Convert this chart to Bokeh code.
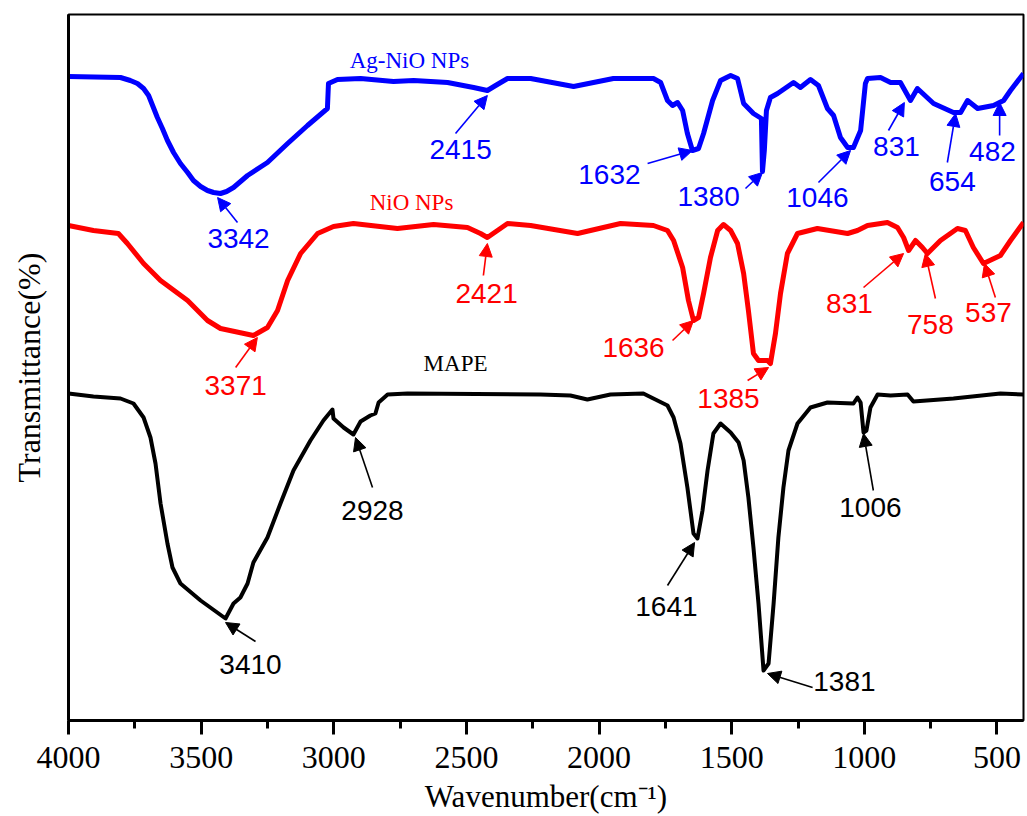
from bokeh.plotting import figure
from bokeh.models import Range1d, FixedTicker, Arrow, NormalHead, ColumnDataSource
from bokeh.embed import file_html
from bokeh.resources import INLINE
from bokeh.core.properties import value

# ---------------- data (wavenumber cm-1, offset transmittance a.u.) ----------------
agnio_wn = [4000, 3804, 3767, 3740, 3717, 3698, 3683, 3665, 3646, 3627, 3604, 3578, 3551, 3529,
            3502, 3476, 3453, 3427, 3404, 3378, 3325, 3250, 3174,
            3099, 3024, 3020, 2986, 2899, 2775, 2699, 2571, 2473, 2421, 2390, 2345, 2258, 2096,
            1946, 1795, 1768, 1742, 1723, 1704, 1685, 1667, 1648, 1625, 1606, 1572, 1542, 1504,
            1478, 1455, 1418, 1388, 1384, 1377, 1369, 1354, 1327, 1267, 1241, 1203, 1173, 1139,
            1116, 1090, 1063, 1041, 1014, 996, 988, 939, 901, 864, 826, 800, 739, 664, 637, 611,
            573, 513, 475, 449, 400]
agnio_t = [644, 643, 640, 637, 632, 625, 615, 603, 592, 580, 568, 557, 548, 540,
           534, 530, 528, 527, 529, 533, 545, 558, 577,
           595, 612, 637, 641, 642, 639, 640, 638, 633, 630, 635, 642, 642, 634,
           642, 642, 638, 620, 615, 618, 610, 587, 570, 572, 587, 620, 640, 645,
           642, 617, 607, 602, 549, 570, 610, 623, 627, 638, 633, 641, 635, 612,
           605, 583, 573, 573, 590, 637, 642, 643, 638, 638, 620, 632, 617, 608, 608, 620,
           612, 615, 620, 630, 647]

nio_wn = [4000, 3906, 3812, 3778, 3717, 3653, 3551, 3476, 3427, 3303, 3250, 3212, 3174, 3125,
          3061, 3001, 2926, 2760, 2624, 2496, 2447, 2421, 2383, 2345, 2258, 2081, 1919, 1795,
          1742, 1719, 1685, 1663, 1644, 1625, 1606, 1580, 1553, 1531, 1504, 1478, 1455, 1437,
          1418, 1399, 1365, 1354, 1335, 1316, 1290, 1252, 1177, 1063, 1026, 988, 913, 875, 852,
          833, 807, 781, 762, 713, 649, 619, 589, 551, 487, 449, 400]
nio_t = [495, 490, 487, 477, 457, 440, 420, 400, 392, 385, 393, 410, 440, 467,
         487, 494, 497, 492, 496, 493, 487, 483, 490, 497, 495, 487, 497, 495,
         490, 480, 453, 420, 400, 403, 427, 463, 490, 496, 490, 477, 447, 410,
         367, 360, 360, 357, 387, 427, 467, 487, 492, 487, 490, 495, 498, 493, 483,
         470, 480, 473, 467, 480, 492, 490, 473, 457, 465, 480, 498]

mape_wn = [4000, 3906, 3804, 3755, 3717, 3691, 3672, 3653, 3627, 3608, 3578, 3502, 3408, 3378,
           3352, 3325, 3303, 3250, 3201, 3152, 3088, 3039, 3005, 3001, 2963, 2926, 2899, 2862,
           2843, 2831, 2797, 2722, 2221, 2108, 2044, 1957, 1833, 1780, 1742, 1719, 1693, 1667,
           1644, 1629, 1610, 1591, 1569, 1542, 1504, 1474, 1455, 1437, 1418, 1399, 1380, 1361,
           1342, 1324, 1305, 1286, 1252, 1203, 1139, 1041, 1026, 1014, 1003, 992, 977, 950, 901,
           837, 815, 664, 487, 400]
mape_t = [327, 324, 322, 317, 303, 283, 257, 217, 177, 153, 137, 120, 102, 117,
          123, 137, 158, 183, 217, 250, 280, 300, 311, 302, 293, 286, 299, 305,
          307, 318, 326, 327, 326, 325, 321, 326, 327, 320, 315, 303, 277, 233,
          187, 182, 210, 250, 287, 297, 288, 278, 260, 223, 173, 117, 50, 57,
          117, 183, 233, 270, 297, 313, 318, 317, 323, 318, 288, 290, 313, 326, 325,
          326, 319, 322, 327, 326]

x_ticks = [4000, 3500, 3000, 2500, 2000, 1500, 1000, 500]
x_minor_ticks = [3750, 3250, 2750, 2250, 1750, 1250, 750]

# peak annotations: label, label position, arrow tail, arrow tip
agnio_peaks = ["3342", "2415", "1632", "1380", "1046", "831", "654", "482"]
agnio_lx = [3359, 2522, 1961, 1587, 1177, 879, 668, 517]
agnio_ly = [482, 571, 546, 524, 523, 574, 539, 569]
agnio_tx = [3363, 2541, 1817, 1448, 1173, 909, 687, 490]
agnio_ty = [498, 587, 557, 532, 538, 590, 558, 585]
agnio_hx = [3438, 2421, 1648, 1384, 1052, 849, 656, 490]
agnio_hy = [523, 625, 570, 548, 570, 618, 607, 618]

nio_peaks = ["3371", "2421", "1636", "1385", "831", "758", "537"]
nio_lx = [3370, 2424, 1870, 1512, 1056, 751, 532]
nio_ly = [335, 427, 373, 322, 417, 396, 408]
nio_tx = [3370, 2436, 1723, 1440, 1003, 732, 506]
nio_ty = [353, 445, 380, 340, 433, 422, 423]
nio_hx = [3288, 2421, 1644, 1361, 852, 770, 547]
nio_hy = [383, 477, 400, 353, 467, 467, 457]

mape_peaks = ["3410", "2928", "1641", "1381", "1006"]
mape_lx = [3314, 2854, 1746, 1075, 977]
mape_ly = [56, 210, 114, 39, 213]
mape_tx = [3295, 2854, 1742, 1195, 966]
mape_ty = [79, 233, 135, 33, 230]
mape_hx = [3408, 2918, 1640, 1365, 1003]
mape_hy = [98, 283, 178, 47, 287]

series_names = ["Ag-NiO NPs", "NiO NPs", "MAPE"]
series_lx = [2715, 2707, 2541]
series_ly = [660, 518, 357]

x_title = "Wavenumber(cm\u207b\u00b9)"
y_title = "Transmittance(%)"

BLUE, RED, BLACK = "#0000FF", "#FF0000", "#000000"

# ---------------- figure ----------------
p = figure(width=1027, height=816, output_backend="svg", toolbar_location=None,
           x_range=Range1d(4000, 400), y_range=Range1d(0, 706),
           min_border_left=68, min_border_right=4, min_border_top=14, min_border_bottom=96)
p.background_fill_color = "white"
p.border_fill_color = "white"
p.grid.visible = False
p.outline_line_color = "black"
p.outline_line_width = 2

xa = p.xaxis[0]
xa.ticker = FixedTicker(ticks=x_ticks, minor_ticks=x_minor_ticks)
xa.axis_line_width = 3
xa.major_tick_line_width = 3
xa.minor_tick_line_width = 3
xa.major_tick_in = 0
xa.major_tick_out = 14
xa.minor_tick_in = 0
xa.minor_tick_out = 8
xa.major_label_text_font = "Liberation Serif"
xa.major_label_text_font_size = "32px"
xa.major_label_text_color = "black"
xa.major_label_standoff = 12
xa.axis_label = x_title
xa.axis_label_text_font = "Liberation Serif"
xa.axis_label_text_font_size = "31px"
xa.axis_label_text_font_style = "normal"
xa.axis_label_text_color = "black"
xa.axis_label_standoff = 8

ya = p.yaxis[0]
ya.ticker = FixedTicker(ticks=[])
ya.axis_line_width = 3
ya.major_tick_line_color = None
ya.minor_tick_line_color = None
ya.major_label_text_font_size = "0px"
ya.axis_label = y_title
ya.axis_label_text_font = "Liberation Serif"
ya.axis_label_text_font_size = "32px"
ya.axis_label_text_font_style = "normal"
ya.axis_label_text_color = "black"
ya.axis_label_standoff = 22

# spectra
p.line(mape_wn, mape_t, line_color=BLACK, line_width=4, line_join="round")
p.line(nio_wn, nio_t, line_color=RED, line_width=5, line_join="round")
p.line(agnio_wn, agnio_t, line_color=BLUE, line_width=5, line_join="round")

# annotations
def annotate(labels, lx, ly, tx, ty, hx, hy, color):
    src = ColumnDataSource(dict(xs=tx, ys=ty, xe=hx, ye=hy))
    p.add_layout(Arrow(end=NormalHead(size=13, fill_color=color, line_color=color, line_width=1),
                       x_start="xs", y_start="ys", x_end="xe", y_end="ye",
                       line_color=color, line_width=1.6, source=src))
    tsrc = ColumnDataSource(dict(x=lx, y=ly, t=labels))
    p.text(x="x", y="y", text="t", source=tsrc, text_color=color,
           text_font=value("Liberation Sans"), text_font_size=value("28px"),
           text_align="center", text_baseline="middle")

annotate(agnio_peaks, agnio_lx, agnio_ly, agnio_tx, agnio_ty, agnio_hx, agnio_hy, BLUE)
annotate(nio_peaks, nio_lx, nio_ly, nio_tx, nio_ty, nio_hx, nio_hy, RED)
annotate(mape_peaks, mape_lx, mape_ly, mape_tx, mape_ty, mape_hx, mape_hy, BLACK)

ssrc = ColumnDataSource(dict(x=series_lx, y=series_ly, t=series_names, c=[BLUE, RED, BLACK]))
p.text(x="x", y="y", text="t", source=ssrc, text_color="c",
       text_font=value("Liberation Serif"), text_font_size=value("23px"),
       text_align="center", text_baseline="middle")

open("out.html", "w").write(file_html(p, INLINE))
